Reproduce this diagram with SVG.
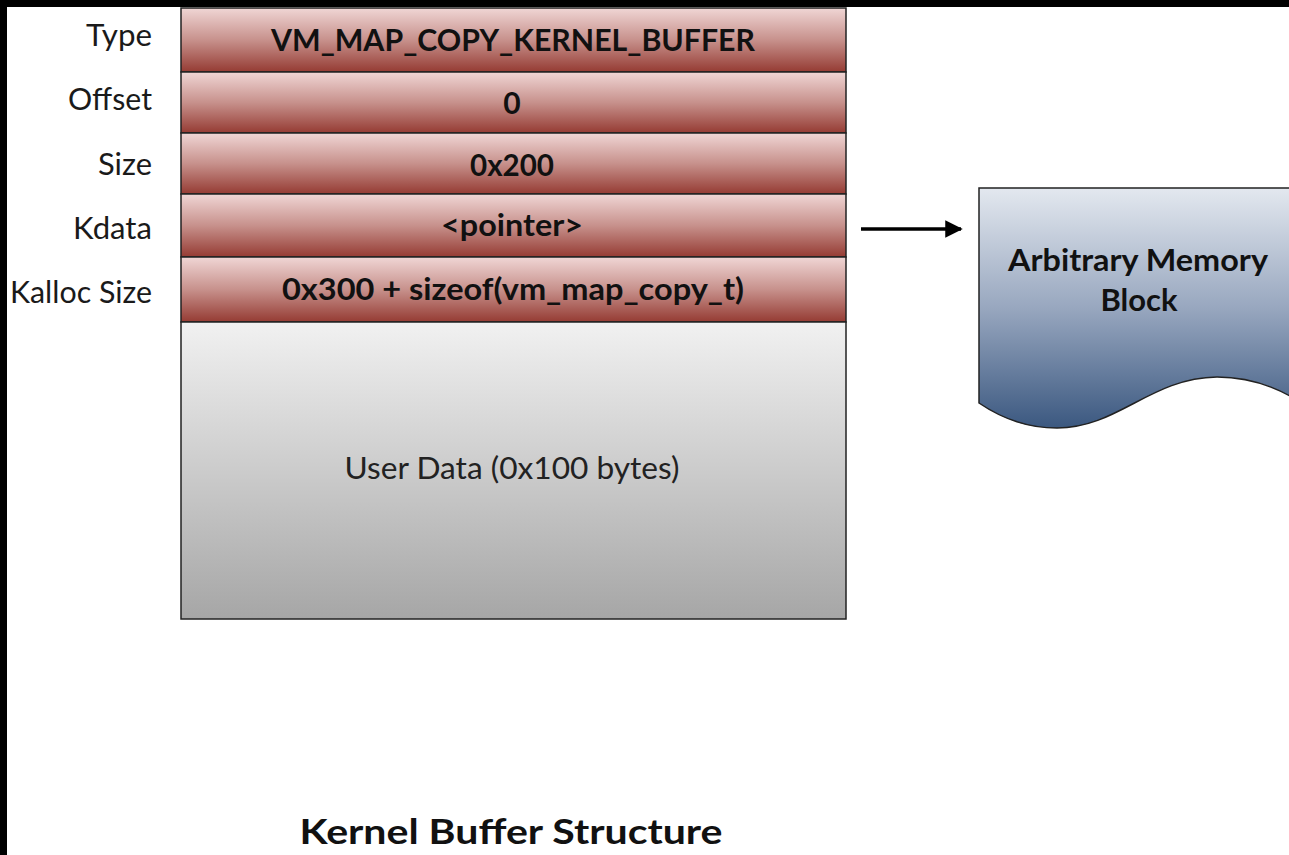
<svg xmlns="http://www.w3.org/2000/svg" width="1289" height="855" viewBox="0 0 1289 855">
<defs>
<linearGradient id="gRed" x1="0" y1="0" x2="0" y2="1">
<stop offset="0" stop-color="#f0d6d5"/>
<stop offset="0.5" stop-color="#c7918c"/>
<stop offset="1" stop-color="#953b33"/>
</linearGradient>
<linearGradient id="gGray" x1="0" y1="0" x2="0" y2="1">
<stop offset="0" stop-color="#f1f1f1"/>
<stop offset="1" stop-color="#a6a6a6"/>
</linearGradient>
<linearGradient id="gBlue" x1="0" y1="0" x2="0" y2="1">
<stop offset="0" stop-color="#e3e8ef"/>
<stop offset="0.5" stop-color="#98a7bf"/>
<stop offset="1" stop-color="#3b5880"/>
</linearGradient>
<marker id="arr" viewBox="0 0 10 10" refX="9" refY="5" markerWidth="6" markerHeight="5" orient="auto" markerUnits="strokeWidth">
<path d="M0,0 L10,5 L0,10 Z" fill="#000"/>
</marker>
</defs>
<style>
.lbl{font-family:Lato,"Open Sans","Liberation Sans",sans-serif;font-size:30.5px;fill:#1a1a1a;text-anchor:end}
.val{font-family:Lato,"Open Sans","Liberation Sans",sans-serif;font-size:30px;font-weight:bold;fill:#111;text-anchor:middle}
.row{fill:url(#gRed);stroke:#222;stroke-width:1.5}
.ud{font-family:Lato,"Open Sans","Liberation Sans",sans-serif;font-size:30px;fill:#222;text-anchor:middle}
.ttl{font-family:Lato,"Open Sans","Liberation Sans",sans-serif;font-size:35px;font-weight:bold;fill:#111;text-anchor:middle}
</style>
<rect x="0" y="0" width="1289" height="855" fill="#000"/>
<rect x="7" y="7" width="1282" height="848" fill="#fff"/>

<g id="type">
<rect class="row" x="181" y="8" width="665" height="64"/>
<text class="lbl" x="152" y="46" textLength="66" lengthAdjust="spacingAndGlyphs">Type</text>
<text class="val" x="513" y="51" textLength="484" lengthAdjust="spacingAndGlyphs">VM_MAP_COPY_KERNEL_BUFFER</text>
</g>
<g id="offset">
<rect class="row" x="181" y="72" width="665" height="61"/>
<text class="lbl" x="152" y="110" textLength="84" lengthAdjust="spacingAndGlyphs">Offset</text>
<text class="val" x="512" y="114">0</text>
</g>
<g id="size">
<rect class="row" x="181" y="133" width="665" height="61"/>
<text class="lbl" x="152" y="175" textLength="54" lengthAdjust="spacingAndGlyphs">Size</text>
<text class="val" x="512" y="176" textLength="84" lengthAdjust="spacingAndGlyphs">0x200</text>
</g>
<g id="kdata">
<rect class="row" x="181" y="194" width="665" height="63"/>
<text class="lbl" x="152" y="239" textLength="79" lengthAdjust="spacingAndGlyphs">Kdata</text>
<text class="val" x="512" y="236" textLength="142" lengthAdjust="spacingAndGlyphs">&lt;pointer&gt;</text>
</g>
<g id="kalloc">
<rect class="row" x="181" y="257" width="665" height="65"/>
<text class="lbl" x="152" y="303" textLength="142" lengthAdjust="spacingAndGlyphs">Kalloc Size</text>
<text class="val" x="513" y="300" textLength="462" lengthAdjust="spacingAndGlyphs">0x300 + sizeof(vm_map_copy_t)</text>
</g>
<g id="userdata">
<rect x="181" y="322" width="665" height="297" fill="url(#gGray)" stroke="#222" stroke-width="1.5"/>
<text class="ud" x="512" y="479" textLength="335" lengthAdjust="spacingAndGlyphs">User Data (0x100 bytes)</text>
</g>
<g id="memblock">
<path d="M979,188 H1300 V402 C1275,386 1248,377 1217,377 C1150,378 1118,428 1057,428 C1025,428 1001,418 979,403 Z" fill="url(#gBlue)" stroke="#222" stroke-width="1.5"/>
<text class="val" x="1138" y="271" font-size="29" textLength="260" lengthAdjust="spacingAndGlyphs">Arbitrary Memory</text>
<text class="val" x="1139" y="311" font-size="29" textLength="77" lengthAdjust="spacingAndGlyphs">Block</text>
</g>
<g id="connectors">
<line x1="861" y1="229" x2="961" y2="229" stroke="#000" stroke-width="3.5" marker-end="url(#arr)"/>
</g>
<text class="ttl" x="511" y="844" textLength="423" lengthAdjust="spacingAndGlyphs">Kernel Buffer Structure</text>
</svg>
